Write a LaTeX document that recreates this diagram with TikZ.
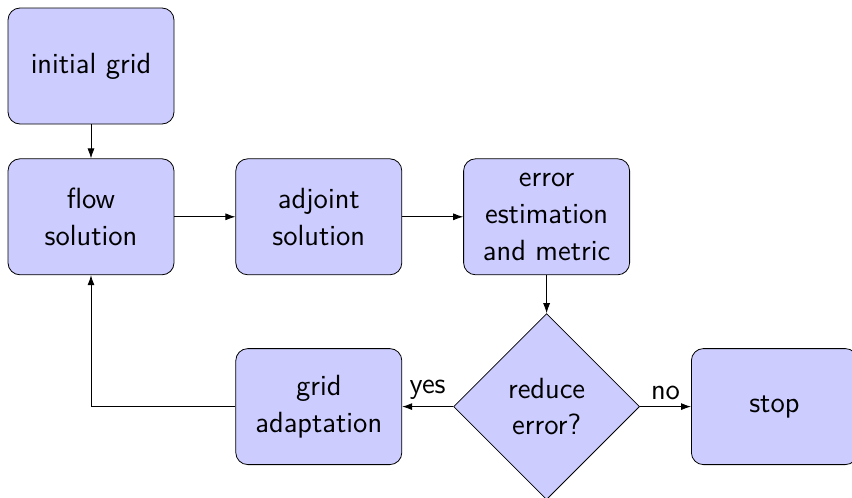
\documentclass[tikz,border=0pt]{standalone}
\usepackage{tikz}
\usetikzlibrary{shapes.geometric, arrows.meta, positioning}
\definecolor{boxblue}{RGB}{204, 204, 255}
\tikzset{
  >=Latex,
  block/.style={rectangle, draw, fill=boxblue, rounded corners=6pt, align=center,
    minimum width=83pt, minimum height=58pt, font=\sffamily\fontsize{14.6}{18.5}\selectfont},
  decision/.style={diamond, draw, fill=boxblue, aspect=1, align=center, inner sep=0pt,
    minimum size=93pt, font=\sffamily\fontsize{14.6}{18}\selectfont},
  line/.style={draw, -{Latex[length=5pt, width=3.5pt]}},
  branch/.style={font=\sffamily\fontsize{14.6}{16}\selectfont, above}
}

\begin{document}
\begin{tikzpicture}
    \useasboundingbox (0pt,0pt) rectangle (426pt,-249pt);
    \node (init) [block] at (45.5pt,-33pt) {initial grid};
    \node (flow) [block, below=17pt of init] {flow\\solution};
    \node (adjoint) [block, right=30.5pt of flow] {adjoint\\solution};
    \node (error) [block, right=30.5pt of adjoint] {error\\estimation\\and metric};
    \node (decide) [decision, below=19pt of error] {reduce\\error?};
    \node (adapt) [block, left=25.5pt of decide] {grid\\adaptation};
    \node (stop) [block, right=25.5pt of decide] {stop};

    \path[line] (init) -- (flow);
    \path[line] (flow) -- (adjoint);
    \path[line] (adjoint) -- (error);
    \path[line] (error) -- (decide);
    \path[line] (decide) -- node[branch] {yes} (adapt);
    \path[line] (decide) -- node[branch] {no} (stop);
    \path[line] (adapt) -| (flow);
\end{tikzpicture}
\end{document}
